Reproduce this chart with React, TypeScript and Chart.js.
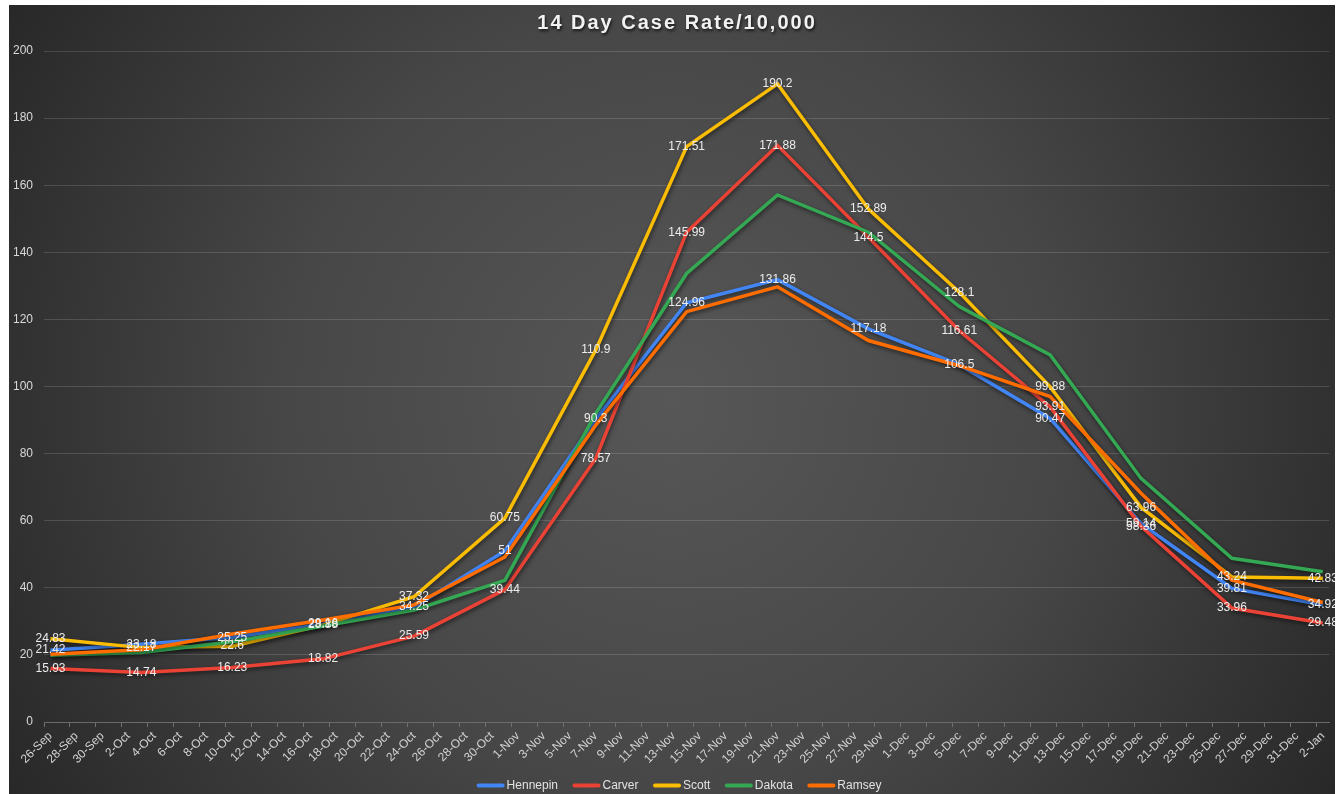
import React, { useEffect, useRef } from "react";
import { Chart, registerables } from "chart.js";

Chart.register(...registerables);

const FONT = '"Liberation Sans", Arial, Helvetica, sans-serif';

const chartTitle = "14 Day Case Rate/10,000";

// data dates (weekly)
const weekDates = [
  "26-Sep", "3-Oct", "10-Oct", "17-Oct", "24-Oct", "31-Oct", "7-Nov", "14-Nov",
  "21-Nov", "28-Nov", "5-Dec", "12-Dec", "19-Dec", "26-Dec", "2-Jan",
];

const hennepin = [21.42, 23.18, 25.25, 29.16, 34.25, 51, 90.3, 124.96, 131.86, 117.18, 106.5, 90.47, 59.14, 39.81, 34.92];
const carver = [15.93, 14.74, 16.23, 18.82, 25.59, 39.44, 78.57, 145.99, 171.88, 144.5, 116.61, 93.91, 58.36, 33.96, 29.48];
const scott = [24.83, 22.17, 22.6, 28.88, 37.32, 60.75, 110.9, 171.51, 190.2, 152.89, 128.1, 99.88, 63.96, 43.24, 42.83];
const dakota = [19.9, 20.7, 23.9, 28.6, 33.4, 42.2, 92, 133.7, 157.1, 146, 123.8, 109.4, 72.6, 48.8, 44.8];
const ramsey = [20.2, 21.5, 26.2, 30.4, 34.9, 49.2, 88.5, 122.3, 129.7, 113.7, 106.2, 97, 68.2, 42.3, 35.6];

const seriesNames = ["Hennepin", "Carver", "Scott", "Dakota", "Ramsey"];
const seriesValues = [hennepin, carver, scott, dakota, ramsey];
const seriesColors = ["#4285F4", "#EA4335", "#FBBC04", "#34A853", "#FF6D01"];
const labeledSeries = ["Hennepin", "Carver", "Scott"];

const yMin = 0;
const yMax = 200;
const yStep = 20;

// daily category axis: 26-Sep .. 2-Jan
const monthNames = ["Jan", "Feb", "Mar", "Apr", "May", "Jun", "Jul", "Aug", "Sep", "Oct", "Nov", "Dec"];
const axisStart = { year: 2020, month: 8, day: 26 };
const axisDays = 99;

function buildDailyCategories(): string[] {
  const out: string[] = [];
  for (let i = 0; i < axisDays; i++) {
    const d = new Date(axisStart.year, axisStart.month, axisStart.day + i);
    out.push(`${d.getDate()}-${monthNames[d.getMonth()]}`);
  }
  return out;
}

const backgroundPlugin = {
  id: "bgGradient",
  beforeDraw(chart: any) {
    const { ctx, width, height } = chart;
    const cx = width / 2;
    const cy = height / 2;
    const r = Math.hypot(cx, cy);
    const g = ctx.createRadialGradient(cx, cy, 0, cx, cy, r);
    g.addColorStop(0, "#575757");
    g.addColorStop(0.5, "#474747");
    g.addColorStop(1, "#282828");
    ctx.save();
    ctx.fillStyle = g;
    ctx.fillRect(0, 0, width, height);
    ctx.restore();
  },
};

const shadowPlugin = {
  id: "lineShadow",
  beforeDatasetDraw(chart: any) {
    const ctx = chart.ctx;
    ctx.save();
    ctx.shadowColor = "rgba(0,0,0,0.55)";
    ctx.shadowBlur = 4;
    ctx.shadowOffsetX = 1;
    ctx.shadowOffsetY = 2;
  },
  afterDatasetDraw(chart: any) {
    chart.ctx.restore();
  },
};

const dataLabelPlugin = {
  id: "dataLabels",
  afterDatasetsDraw(chart: any) {
    const ctx = chart.ctx;
    ctx.save();
    ctx.font = `12px ${FONT}`;
    ctx.fillStyle = "#ececec";
    ctx.textAlign = "center";
    ctx.textBaseline = "middle";
    chart.data.datasets.forEach((ds: any, di: number) => {
      if (!labeledSeries.includes(ds.label)) return;
      const meta = chart.getDatasetMeta(di);
      meta.data.forEach((pt: any, i: number) => {
        const v = ds.data[i].y;
        ctx.fillText(String(v), pt.x, pt.y);
      });
    });
    ctx.restore();
  },
};

const titleLegendPlugin = {
  id: "titleLegend",
  afterDraw(chart: any) {
    const ctx = chart.ctx;
    const w = chart.width;
    // title
    ctx.save();
    ctx.font = `bold 20px ${FONT}`;
    try { (ctx as any).letterSpacing = "2px"; } catch (e) {}
    ctx.fillStyle = "#f2f2f2";
    ctx.textAlign = "center";
    ctx.textBaseline = "alphabetic";
    ctx.shadowColor = "rgba(0,0,0,0.7)";
    ctx.shadowBlur = 3;
    ctx.shadowOffsetX = 1;
    ctx.shadowOffsetY = 2;
    ctx.fillText(chartTitle, w / 2 + 5, 24);
    ctx.restore();

    // legend
    ctx.save();
    ctx.font = `12px ${FONT}`;
    const marker = 28;
    const gap = 2;
    const itemGap = 14.5;
    const items = chart.data.datasets.map((ds: any) => ({
      label: ds.label,
      color: ds.borderColor,
      w: ctx.measureText(ds.label).width,
    }));
    const total = items.reduce((s: number, it: any) => s + marker + gap + it.w, 0) + itemGap * (items.length - 1);
    let x = w / 2 + 7 - total / 2;
    const y = 780.5;
    items.forEach((it: any) => {
      ctx.strokeStyle = it.color;
      ctx.lineWidth = 4;
      ctx.lineCap = "round";
      ctx.beginPath();
      ctx.moveTo(x + 2, y);
      ctx.lineTo(x + marker - 2, y);
      ctx.stroke();
      ctx.fillStyle = "#e2e2e2";
      ctx.textAlign = "left";
      ctx.textBaseline = "middle";
      ctx.fillText(it.label, x + marker + gap, y);
      x += marker + gap + it.w + itemGap;
    });
    ctx.restore();
  },
};

export default function App() {
  const canvasRef = useRef<HTMLCanvasElement | null>(null);

  useEffect(() => {
    if (!canvasRef.current) return;
    const categories = buildDailyCategories();
    const datasets = seriesNames.map((name, si) => ({
      label: name,
      data: weekDates.map((d, i) => ({ x: d, y: seriesValues[si][i] })),
      borderColor: seriesColors[si],
      backgroundColor: seriesColors[si],
      borderWidth: 3.5,
      pointRadius: 0,
      pointHoverRadius: 0,
      tension: 0,
      fill: false,
      order: seriesNames.length - si,
    }));

    const chart = new Chart(canvasRef.current, {
      type: "line",
      data: { labels: categories, datasets },
      plugins: [backgroundPlugin, shadowPlugin, dataLabelPlugin, titleLegendPlugin],
      options: {
        responsive: false,
        animation: false,
        devicePixelRatio: 1,
        layout: { padding: { top: 46, right: 3, bottom: 30, left: 0 } },
        plugins: {
          legend: { display: false },
          title: { display: false },
          tooltip: { enabled: false },
        },
        scales: {
          x: {
            type: "category",
            offset: true,
            grid: {
              display: true,
              drawOnChartArea: false,
              drawTicks: true,
              tickLength: 5,
              offset: true,
              lineWidth: 1,
              color: (c: any) => (c.index % 2 === 0 ? "#707070" : "rgba(0,0,0,0)"),
            },
            border: { display: true, color: "#6a6a6a", width: 1 },
            ticks: {
              autoSkip: false,
              maxRotation: 45,
              minRotation: 45,
              padding: 2,
              color: "#d2d2d2",
              font: { size: 12, family: FONT },
              callback: function (this: any, val: any, idx: number) {
                return idx % 2 === 0 ? this.getLabelForValue(val) : "";
              },
            },
            afterFit: (s: any) => {
              s.height = 42;
            },
          },
          y: {
            min: yMin,
            max: yMax,
            ticks: {
              stepSize: yStep,
              padding: 11,
              color: "#d9d9d9",
              font: { size: 12, family: FONT },
            },
            grid: { color: "rgba(255,255,255,0.14)", drawTicks: false, lineWidth: 1 },
            border: { display: false },
            afterFit: (s: any) => {
              s.width = 35;
            },
          },
        },
      },
    } as any);

    return () => chart.destroy();
  }, []);

  return (
    <div style={{ position: "fixed", left: 9, top: 5, width: 1326, height: 789, overflow: "hidden" }}>
      <canvas ref={canvasRef} width={1326} height={789} style={{ display: "block" }} />
    </div>
  );
}
